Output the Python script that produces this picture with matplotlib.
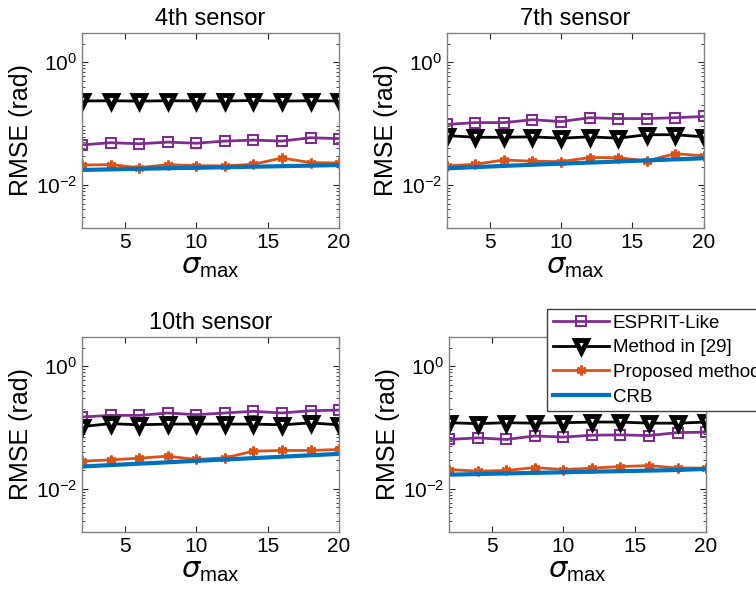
import matplotlib
matplotlib.use('Agg')
import matplotlib.pyplot as plt
from matplotlib.ticker import LogLocator, NullFormatter
import numpy as np

plt.rcParams['font.family'] = ['Liberation Sans', 'DejaVu Sans']
plt.rcParams['mathtext.default'] = 'regular'

# sigma_max values
sigma = [2, 4, 6, 8, 10, 12, 14, 16, 18, 20]

# 4th sensor
s4_esprit = [0.045, 0.049, 0.047, 0.050, 0.048, 0.052, 0.054, 0.052, 0.059, 0.057]
s4_m29 = [0.234, 0.236, 0.233, 0.236, 0.235, 0.234, 0.238, 0.233, 0.236, 0.234]
s4_prop = [0.0212, 0.0215, 0.0192, 0.0215, 0.0207, 0.0205, 0.0218, 0.0276, 0.0232, 0.0229]
s4_crb = [0.0176, 0.0180, 0.0184, 0.0188, 0.0191, 0.0195, 0.0199, 0.0203, 0.0207, 0.0212]

# 7th sensor
s7_esprit = [0.097, 0.104, 0.104, 0.116, 0.108, 0.125, 0.121, 0.121, 0.125, 0.131]
s7_m29 = [0.064, 0.060, 0.060, 0.061, 0.058, 0.061, 0.058, 0.066, 0.066, 0.061]
s7_prop = [0.0205, 0.0218, 0.0256, 0.0244, 0.0241, 0.028, 0.028, 0.0247, 0.0325, 0.0298]
s7_crb = [0.0187, 0.0196, 0.0205, 0.0214, 0.0223, 0.0232, 0.0242, 0.0252, 0.0262, 0.0273]

# 10th sensor
s10_esprit = [0.149, 0.158, 0.158, 0.173, 0.162, 0.173, 0.184, 0.173, 0.188, 0.193]
s10_m29 = [0.104, 0.116, 0.111, 0.114, 0.114, 0.114, 0.114, 0.111, 0.119, 0.111]
s10_prop = [0.0283, 0.0298, 0.0317, 0.0342, 0.0302, 0.0321, 0.0413, 0.0424, 0.0424, 0.044]
s10_crb = [0.0232, 0.0245, 0.0258, 0.0272, 0.0287, 0.0302, 0.0318, 0.0335, 0.0354, 0.0373]

# last panel (no title)
p4_esprit = [0.064, 0.068, 0.064, 0.073, 0.070, 0.075, 0.076, 0.074, 0.083, 0.084]
p4_m29 = [0.120, 0.116, 0.120, 0.118, 0.120, 0.123, 0.123, 0.118, 0.118, 0.123]
p4_prop = [0.0207, 0.0195, 0.0200, 0.0223, 0.0207, 0.0218, 0.0232, 0.024, 0.022, 0.0218]
p4_crb = [0.0171, 0.0175, 0.0179, 0.0183, 0.0187, 0.0191, 0.0195, 0.0199, 0.0204, 0.0212]

titles = ['4th sensor', '7th sensor', '10th sensor', '']
panels = [
    (s4_esprit, s4_m29, s4_prop, s4_crb),
    (s7_esprit, s7_m29, s7_prop, s7_crb),
    (s10_esprit, s10_m29, s10_prop, s10_crb),
    (p4_esprit, p4_m29, p4_prop, p4_crb),
]
labels = ['ESPRIT-Like', 'Method in [29]', 'Proposed method', 'CRB']

# axes rectangles (figure fractions)
rects = [
    [0.1085, 0.613, 0.340, 0.331],
    [0.591, 0.613, 0.340, 0.331],
    [0.1085, 0.097, 0.340, 0.331],
    [0.594, 0.097, 0.340, 0.331],
]

c_purple = '#7E2F8E'
c_orange = '#D95319'
c_blue = '#0072BD'
spine_c = '#262626'

fig = plt.figure(figsize=(7.56, 5.89), dpi=100)
handles = None
for rect, title, (esp, m29, prop, crb) in zip(rects, titles, panels):
    ax = fig.add_axes(rect)
    h1, = ax.semilogy(sigma, esp, color=c_purple, lw=2, marker='s', ms=6.5,
                      mfc='none', mew=1.5)
    h2, = ax.semilogy(sigma, m29, color='black', lw=2, marker='v', ms=9,
                      mfc='white', mew=3.5)
    h3, = ax.semilogy(sigma, prop, color=c_orange, lw=2, marker=(6, 2, 0), ms=7,
                      mew=2)
    h4, = ax.semilogy(sigma, crb, color=c_blue, lw=3)
    handles = [h1, h2, h3, h4]
    ax.set_xlim(2, 20)
    ax.set_ylim(0.002, 3)
    ax.set_xticks([5, 10, 15, 20])
    ax.set_yticks([1e-2, 1e0])
    ax.yaxis.set_minor_locator(LogLocator(base=10, subs=np.arange(2, 10)))
    ax.yaxis.set_minor_formatter(NullFormatter())
    ax.tick_params(which='both', direction='in', top=True, right=True,
                   colors=spine_c, labelcolor='black', labelsize=15)
    ax.tick_params(which='major', length=4)
    ax.tick_params(which='minor', length=2)
    for sp in ax.spines.values():
        sp.set_color('#808080')
        sp.set_linewidth(1)
    ax.set_xlabel(r'$\mathit{\sigma}_{max}$', fontsize=21, labelpad=0)
    ax.set_ylabel('RMSE (rad)', fontsize=18, labelpad=2)
    if title:
        ax.set_title(title, fontsize=17, pad=6)

leg = fig.legend(handles, labels, loc='upper left',
                 bbox_to_anchor=(547 / 756, 1 - 309 / 589), borderaxespad=0,
                 fontsize=13.5, handlelength=3.0, handletextpad=0.2,
                 labelspacing=0.4, borderpad=0.3, fancybox=False,
                 framealpha=1, edgecolor='#404040')
leg.get_frame().set_linewidth(1)

plt.savefig('out.png', dpi=100)
